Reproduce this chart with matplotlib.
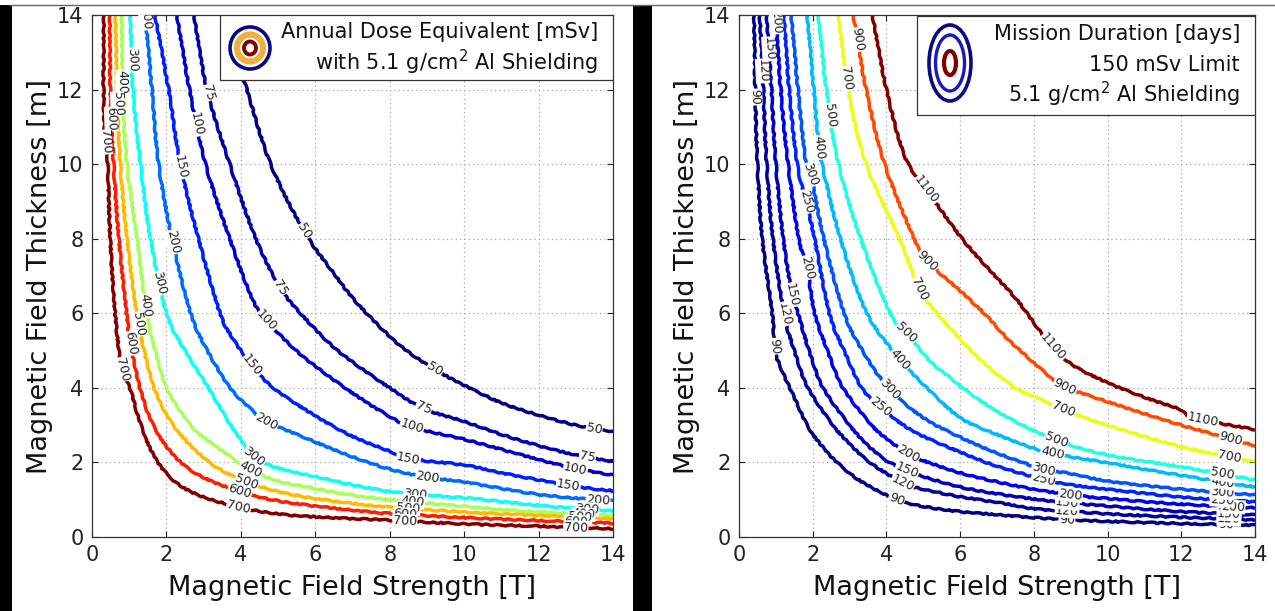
import numpy as np
import matplotlib
matplotlib.use("Agg")
import matplotlib.pyplot as plt
from matplotlib.patches import Rectangle, Ellipse, PathPatch
from matplotlib.path import Path
from matplotlib.lines import Line2D

# ---------------- data: left panel (annual dose equivalent, mSv) ----------------
left_levels = [50, 75, 100, 150, 200, 300, 400, 500, 600, 700]
L50_x = [3.55, 4.1, 4.8, 5.7, 6.4, 7.1, 8.2, 9.2, 10, 11, 12, 13, 14]
L50_y = [14, 12.2, 10, 8.2, 7.2, 6.3, 5.2, 4.5, 4.07, 3.6, 3.27, 3.0, 2.82]
L75_x = [2.74, 3.09, 3.7, 4.4, 5.05, 5.6, 6.6, 8.0, 8.9, 10, 11, 12, 13, 14]
L75_y = [14, 12, 10, 8, 6.7, 6.0, 5.0, 4.0, 3.45, 3.1, 2.75, 2.45, 2.2, 2.03]
L100_x = [2.28, 2.62, 3.05, 3.7, 4.3, 4.7, 5.6, 6.8, 7.8, 8.6, 10, 11, 12, 13, 14]
L100_y = [14, 12, 10, 8, 6.4, 5.8, 4.9, 4.0, 3.35, 2.95, 2.62, 2.35, 2.08, 1.83, 1.66]
L150_x = [1.69, 2.06, 2.37, 2.86, 3.44, 3.8, 4.3, 4.87, 6, 7, 8, 8.5, 10, 11, 12, 13, 14]
L150_y = [14, 12, 10, 8, 6, 5.3, 4.6, 4.0, 3.25, 2.7, 2.3, 2.1, 1.93, 1.72, 1.53, 1.35, 1.24]
L200_x = [1.43, 1.61, 1.79, 2.15, 2.65, 3.1, 3.71, 4.2, 4.7, 6, 7, 8, 9, 10, 11, 12, 13, 14]
L200_y = [14, 12, 10, 8, 6, 5, 4, 3.5, 3.1, 2.55, 2.15, 1.82, 1.6, 1.48, 1.3, 1.14, 1.04, 0.97]
L300_x = [1.03, 1.1, 1.3, 1.57, 2.0, 2.5, 3.13, 3.6, 4.0, 4.34, 5, 6, 7, 8, 9, 10, 11, 12, 13, 14]
L300_y = [14, 12, 10, 8, 6, 5, 4, 3.2, 2.6, 2.15, 1.85, 1.62, 1.4, 1.22, 1.12, 1.05, 0.95, 0.85, 0.77, 0.7]
L400_x = [0.8, 0.82, 0.94, 1.21, 1.47, 1.7, 2.0, 2.5, 2.9, 3.8, 4.25, 5, 6, 7, 8, 10, 12, 14]
L400_y = [14, 12, 10, 8, 6, 5, 4, 3.2, 2.75, 2.1, 1.8, 1.5, 1.3, 1.12, 1.0, 0.82, 0.67, 0.57]
L500_x = [0.63, 0.67, 0.76, 0.94, 1.2, 1.4, 1.67, 2.05, 2.6, 3.3, 4.16, 5, 6, 7, 8, 10, 12, 14]
L500_y = [14, 12, 10, 8, 6, 5, 4, 3.2, 2.5, 1.9, 1.48, 1.22, 1.03, 0.9, 0.8, 0.67, 0.58, 0.49]
L600_x = [0.48, 0.49, 0.58, 0.72, 0.93, 1.03, 1.29, 1.6, 2.1, 2.8, 3.98, 5, 6, 7, 8, 10, 12, 14]
L600_y = [14, 12, 10, 8, 6, 5.2, 4, 3.1, 2.3, 1.7, 1.21, 0.97, 0.83, 0.72, 0.63, 0.52, 0.44, 0.37]
L700_x = [0.32, 0.31, 0.35, 0.42, 0.49, 0.62, 0.8, 1.02, 1.25, 1.6, 2.1, 2.8, 3.93, 5, 6, 8, 10, 12, 14]
L700_y = [14, 12, 10.6, 10, 8, 6, 4.5, 4, 3.2, 2.3, 1.6, 1.15, 0.8, 0.62, 0.54, 0.45, 0.35, 0.29, 0.22]

# ---------------- data: right panel (mission duration, days) ----------------
right_levels = [90, 120, 150, 200, 250, 300, 400, 500, 700, 900, 1100]
R90_x = [0.41, 0.44, 0.5, 0.63, 0.9, 0.98, 1.15, 1.38, 1.85, 2.2, 2.66, 3.3, 4.28, 5, 6, 7, 8, 9, 10, 12, 14]
R90_y = [14, 12, 10, 8, 6, 5.0, 4.5, 4, 3, 2.5, 2, 1.5, 1.0, 0.82, 0.68, 0.6, 0.52, 0.46, 0.42, 0.36, 0.32]
R120_x = [0.56, 0.66, 0.75, 0.92, 1.22, 1.5, 1.87, 2.55, 3.0, 3.55, 4.45, 5, 6, 7, 8, 9, 10, 12, 14]
R120_y = [14, 12, 10, 8, 6, 5, 4, 3, 2.5, 2, 1.45, 1.28, 1.08, 0.93, 0.76, 0.69, 0.62, 0.53, 0.46]
R150_x = [0.75, 0.88, 1.0, 1.2, 1.44, 1.6, 1.9, 2.28, 3.0, 3.45, 4.0, 4.55, 5, 6, 7, 8, 9, 10, 12, 14]
R150_y = [14, 12, 10, 8, 6.5, 6, 5, 4, 3, 2.5, 2.05, 1.8, 1.62, 1.34, 1.16, 1.02, 0.91, 0.83, 0.68, 0.59]
R200_x = [1.0, 1.13, 1.33, 1.62, 1.85, 2.05, 2.4, 2.82, 3.6, 4.05, 4.55, 5, 6, 7, 8, 9, 10, 12, 14]
R200_y = [14, 12, 10, 8, 7.2, 6, 5, 4, 3, 2.6, 2.26, 2.05, 1.72, 1.48, 1.28, 1.13, 1.03, 0.88, 0.78]
R250_x = [1.22, 1.36, 1.58, 1.82, 2.05, 2.45, 2.85, 3.33, 3.83, 4.7, 6, 7, 8.25, 9, 10, 12, 14]
R250_y = [14, 12, 10, 9, 8, 6, 5, 4, 3.5, 2.85, 2.28, 1.9, 1.55, 1.4, 1.28, 1.07, 0.94]
R300_x = [1.42, 1.6, 1.82, 1.95, 2.3, 2.85, 3.35, 4.05, 5, 6, 7, 8.25, 9, 10, 12, 14]
R300_y = [14, 12, 10, 9.7, 8, 6, 5, 4, 3.2, 2.68, 2.25, 1.82, 1.7, 1.5, 1.28, 1.13]
R400_x = [1.85, 2.03, 2.17, 2.25, 2.75, 3.47, 4.37, 5.1, 6, 7, 8.35, 10, 12, 14]
R400_y = [14, 12, 10.45, 10, 8, 6, 4.76, 4, 3.2, 2.75, 2.28, 1.99, 1.65, 1.34]
R500_x = [2.15, 2.37, 2.7, 3.3, 4.1, 4.55, 5.2, 5.8, 6.2, 7.2, 8.6, 10, 12, 14]
R500_y = [14, 12, 10, 8, 6, 5.48, 4.7, 4.22, 3.9, 3.25, 2.6, 2.2, 1.88, 1.53]
R700_x = [2.7, 2.96, 3.45, 4.35, 4.9, 5.37, 6.5, 7.5, 8.17, 8.8, 10, 12, 14]
R700_y = [14, 12, 10, 8, 6.64, 6, 4.8, 4.0, 3.7, 3.41, 3.0, 2.42, 2.02]
R900_x = [3.1, 3.45, 3.95, 4.75, 5.1, 6.0, 6.7, 7.3, 8.2, 8.8, 10, 12, 14]
R900_y = [14, 12, 10, 8, 7.4, 6.6, 5.95, 5.3, 4.5, 4.05, 3.63, 3.0, 2.45]
R1100_x = [3.62, 4.0, 4.5, 5.1, 6.05, 6.9, 7.55, 8.3, 9.0, 10, 11, 12, 12.3, 14]
R1100_y = [14, 12, 10.2, 9.3, 8, 7.05, 6.35, 5.35, 4.65, 4.14, 3.75, 3.41, 3.2, 2.88]

tick_values = [0, 2, 4, 6, 8, 10, 12, 14]
x_label = "Magnetic Field Strength [T]"
y_label = "Magnetic Field Thickness [m]"
left_legend = ["Annual Dose Equivalent [mSv]", r"with 5.1 g/cm$^2$ Al Shielding"]
right_legend = ["Mission Duration [days]", "150 mSv Limit", r"5.1 g/cm$^2$ Al Shielding"]

left_curves = [(50, L50_x, L50_y), (75, L75_x, L75_y), (100, L100_x, L100_y),
               (150, L150_x, L150_y), (200, L200_x, L200_y), (300, L300_x, L300_y),
               (400, L400_x, L400_y), (500, L500_x, L500_y), (600, L600_x, L600_y),
               (700, L700_x, L700_y)]
right_curves = [(90, R90_x, R90_y), (120, R120_x, R120_y), (150, R150_x, R150_y),
                (200, R200_x, R200_y), (250, R250_x, R250_y), (300, R300_x, R300_y),
                (400, R400_x, R400_y), (500, R500_x, R500_y), (700, R700_x, R700_y),
                (900, R900_x, R900_y), (1100, R1100_x, R1100_y)]

# approximate inline-label anchor spots (snapped onto each curve)
left_label_spots = {
    50: [(5.7, 8.2), (9.2, 4.5), (13.5, 2.9)],
    75: [(3.1, 11.9), (5.05, 6.7), (8.9, 3.45), (13.3, 2.1)],
    100: [(2.7, 11.05), (4.7, 5.8), (8.6, 2.95), (13.0, 1.8)],
    150: [(2.28, 9.9), (4.3, 4.6), (8.5, 2.1), (12.8, 1.35)],
    200: [(1.3, 13.9), (2.07, 7.9), (4.7, 3.1), (9.0, 1.55), (13.6, 1.0)],
    300: [(1.03, 12.8), (1.8, 6.8), (4.34, 2.15), (8.7, 1.15), (13.3, 0.78)],
    400: [(0.8, 12.2), (1.4, 6.2), (4.25, 1.8), (8.6, 0.95), (13.2, 0.62)],
    500: [(0.7, 11.6), (1.2, 5.7), (4.16, 1.48), (8.5, 0.78), (13.1, 0.52)],
    600: [(0.5, 11.2), (1.03, 5.2), (3.98, 1.21), (8.4, 0.62), (13.0, 0.42)],
    700: [(0.33, 10.6), (0.8, 4.5), (3.93, 0.8), (8.4, 0.45), (13.0, 0.27)],
}
right_label_spots = {
    90: [(0.43, 11.8), (0.9, 5.1), (4.28, 1.0), (8.9, 0.46), (13.2, 0.33)],
    120: [(0.6, 12.5), (1.22, 5.97), (4.45, 1.45), (8.9, 0.7), (13.3, 0.5)],
    150: [(0.8, 13.1), (1.44, 6.5), (4.55, 1.8), (8.9, 0.93), (13.3, 0.63)],
    200: [(1.0, 13.8), (1.85, 7.23), (4.64, 2.3), (8.98, 1.13), (13.4, 0.82)],
    250: [(1.82, 9.0), (3.83, 3.5), (8.25, 1.53), (13.1, 1.0)],
    300: [(1.95, 9.73), (4.1, 3.95), (8.25, 1.8), (13.1, 1.2)],
    400: [(2.17, 10.45), (4.37, 4.76), (8.5, 2.2), (13.1, 1.4)],
    500: [(2.44, 11.3), (4.55, 5.48), (8.6, 2.55), (13.1, 1.65)],
    700: [(2.85, 12.3), (4.9, 6.64), (8.8, 3.41), (13.3, 2.1)],
    900: [(3.05, 13.3), (5.1, 7.4), (8.8, 3.95), (13.3, 2.5)],
    1100: [(5.1, 9.33), (8.44, 5.03), (12.6, 3.2)],
}

# ---------------- figure ----------------
W, H = 1275, 611
plt.rcParams["font.family"] = ["DejaVu Sans"]
fig = plt.figure(figsize=(W / 100, H / 100), dpi=100, facecolor="white")


def fx(px):
    return px / W


def fy(py):
    return 1 - py / H


def matlab_jet(v):
    r = np.clip(1.5 - abs(4 * v - 3), 0, 1)
    g = np.clip(1.5 - abs(4 * v - 2), 0, 1)
    b = np.clip(1.5 - abs(4 * v - 1), 0, 1)
    return (float(r), float(g), float(b))


# frame decorations (screenshot edges)
fig.add_artist(Line2D([fx(10), 1], [fy(5), fy(5)], transform=fig.transFigure,
                      color="#666666", lw=1.0))
fig.add_artist(Rectangle((0, 0), fx(12), fy(5), transform=fig.transFigure,
                         fc="black", ec="none"))
fig.add_artist(Rectangle((fx(633), 0), fx(19), fy(5), transform=fig.transFigure,
                         fc="black", ec="none"))

axL = fig.add_axes([fx(92), fy(537), fx(613) - fx(92), fy(15) - fy(537)])
axR = fig.add_axes([fx(739), fy(537), fx(1255) - fx(739), fy(15) - fy(537)])


def style_axes(ax):
    ax.set_xlim(0, 14)
    ax.set_ylim(0, 14)
    ax.set_xticks(tick_values)
    ax.set_yticks(tick_values)
    ax.tick_params(direction="in", length=4, width=0.8, top=True, right=True,
                   labelsize=15, pad=6, colors="#222222")
    ax.tick_params(axis="y", pad=6)
    for v in tick_values[1:-1]:
        ax.axvline(v, color="#a8a8a8", lw=0.9, ls=(0, (1, 2.5)), zorder=0.5)
        ax.axhline(v, color="#a8a8a8", lw=0.9, ls=(0, (1, 2.5)), zorder=0.5)
    for s in ax.spines.values():
        s.set_color("#333333")
        s.set_linewidth(0.9)
    ax.set_xlabel(x_label, fontsize=19.5, labelpad=7, color="#111111")
    ax.set_ylabel(y_label, fontsize=19.5, labelpad=3, color="#111111")


def smooth_path(xs, ys):
    """Cubic Bezier path through the read points (Catmull-Rom tangents)."""
    p = np.column_stack([xs, ys]).astype(float)
    ext = np.vstack([p[0], p, p[-1]])
    verts = [p[0]]
    codes = [Path.MOVETO]
    for i in range(len(p) - 1):
        c1 = p[i] + (ext[i + 2] - ext[i]) / 6.0
        c2 = p[i + 1] - (ext[i + 3] - ext[i + 1]) / 6.0
        verts += [c1, c2, p[i + 1]]
        codes += [Path.CURVE4] * 3
    return Path(np.array(verts), codes)


def draw_curves(ax, curves, levels, spots):
    vmin, vmax = min(levels), max(levels)
    for lev, xs, ys in curves:
        col = matlab_jet((lev - vmin) / (vmax - vmin))
        path = smooth_path(xs, ys)
        patch = PathPatch(path, fc="none", ec=col, lw=2.5, joinstyle="round",
                          capstyle="butt", zorder=2)
        patch.set_sketch_params(scale=0.6, length=16, randomness=6)
        ax.add_patch(patch)
        # sample drawn curve (for label placement only)
        poly = np.vstack(path.to_polygons(closed_only=False))
        pts = ax.transData.transform(poly)
        seg = np.hypot(*np.diff(pts, axis=0).T)
        s = np.concatenate([[0], np.cumsum(seg)])
        ss = np.linspace(0, s[-1], int(s[-1]) + 1)
        px = np.interp(ss, s, pts[:, 0])
        py = np.interp(ss, s, pts[:, 1])
        for tx, ty in spots.get(lev, []):
            t = ax.transData.transform((tx, ty))
            i = int(np.argmin((px - t[0]) ** 2 + (py - t[1]) ** 2))
            i0, i1 = max(i - 8, 0), min(i + 8, len(px) - 1)
            ang = np.degrees(np.arctan2(py[i1] - py[i0], px[i1] - px[i0]))
            if ang > 90:
                ang -= 180
            if ang < -90:
                ang += 180
            dx, dy = ax.transData.inverted().transform((px[i], py[i]))
            ax.text(dx, dy, str(lev), rotation=ang, rotation_mode="anchor",
                    ha="center", va="center", fontsize=9, color="#222222",
                    zorder=3, clip_on=True,
                    bbox=dict(boxstyle="square,pad=0.04", fc="white", ec="none"))


for ax in (axL, axR):
    style_axes(ax)

draw_curves(axL, left_curves, left_levels, left_label_spots)
draw_curves(axR, right_curves, right_levels, right_label_spots)

# legend boxes
axL.add_patch(Rectangle((fx(220), fy(80)), fx(613) - fx(220), fy(15) - fy(80),
                        transform=fig.transFigure, fc="white", ec="#333333",
                        lw=0.9, zorder=5))
axR.add_patch(Rectangle((fx(917), fy(115)), fx(1255) - fx(917), fy(16) - fy(115),
                        transform=fig.transFigure, fc="white", ec="#333333",
                        lw=0.9, zorder=5))


def ring(ax, cx, cy, w, h, color, lw):
    ax.add_patch(Ellipse((fx(cx), fy(cy)), w / W, h / H, transform=fig.transFigure,
                         fc="none", ec=color, lw=lw, zorder=6, clip_on=False))


ring(axL, 250, 48, 40, 42, "#0a0a80", 2.6)
ring(axL, 250, 48, 26, 27, "#eeb040", 4.5)
ring(axL, 250, 48, 12, 13, "#800000", 2.8)

ring(axR, 950, 63, 42, 76, "#0a0a80", 2.6)
ring(axR, 950, 63, 29, 56, "#1a1ab8", 2.4)
ring(axR, 950, 63, 12, 24, "#800000", 3.0)

for k, line in enumerate(left_legend):
    fig.text(fx(598), fy(38 + 32 * k), line, ha="right", va="baseline",
             fontsize=15, color="#111111", zorder=7)
for k, line in enumerate(right_legend):
    fig.text(fx(1240), fy(40 + 31 * k), line, ha="right", va="baseline",
             fontsize=15, color="#111111", zorder=7)

fig.savefig("out.png", dpi=100, facecolor="white")
